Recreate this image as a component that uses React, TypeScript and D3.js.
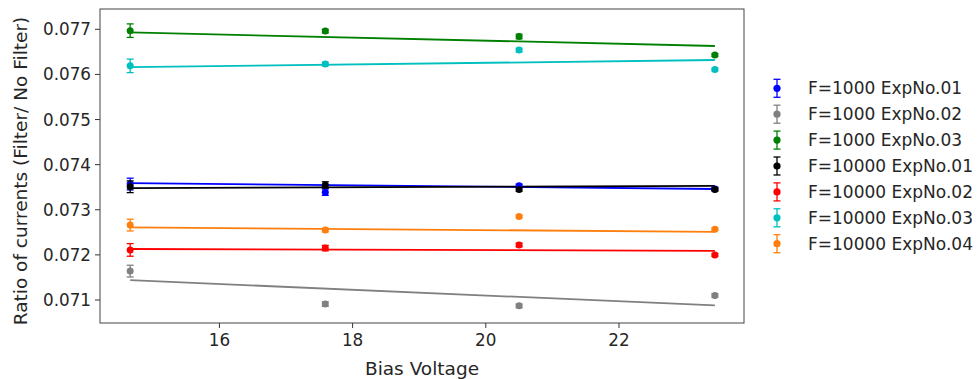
import * as d3 from "d3";

const WIDTH = 980;
const HEIGHT = 379;
const FONT = "DejaVu Sans, sans-serif";

const biasVoltages = [14.66, 17.59, 20.5, 23.44];

const seriesNames = [
    "F=1000 ExpNo.01",
    "F=1000 ExpNo.02",
    "F=1000 ExpNo.03",
    "F=10000 ExpNo.01",
    "F=10000 ExpNo.02",
    "F=10000 ExpNo.03",
    "F=10000 ExpNo.04",
];
const seriesColors = ["#0000ff", "#808080", "#008000", "#000000", "#ff0000", "#00bfbf", "#ff7f0e"];

// measured ratio per bias voltage
const f1000Exp01 = [0.07357, 0.07339, 0.07353, 0.07346];
const f1000Exp02 = [0.07164, 0.07091, 0.07087, 0.0711];
const f1000Exp03 = [0.07697, 0.07696, 0.07684, 0.07643];
const f10000Exp01 = [0.07351, 0.07355, 0.07345, 0.07345];
const f10000Exp02 = [0.07211, 0.07215, 0.07222, 0.072];
const f10000Exp03 = [0.07619, 0.07623, 0.07654, 0.07611];
const f10000Exp04 = [0.07266, 0.07255, 0.07285, 0.07257];

// error bar half-heights
const f1000Exp01Err = [0.00013, 0.00007, 0.00004, 0.00004];
const f1000Exp02Err = [0.00013, 0.00005, 0.00004, 0.00004];
const f1000Exp03Err = [0.00015, 0.00004, 0.00005, 0.00003];
const f10000Exp01Err = [0.00013, 0.00007, 0.00004, 0.00003];
const f10000Exp02Err = [0.00014, 0.00006, 0.00004, 0.00003];
const f10000Exp03Err = [0.00015, 0.00004, 0.00004, 0.00003];
const f10000Exp04Err = [0.00013, 0.00004, 0.00003, 0.00003];

// linear fit value at first and last bias voltage
const fitStart = [0.07359, 0.07144, 0.07693, 0.07348, 0.07213, 0.07616, 0.07261];
const fitEnd = [0.07346, 0.07088, 0.07663, 0.07353, 0.07209, 0.07632, 0.07251];

const seriesValues = [f1000Exp01, f1000Exp02, f1000Exp03, f10000Exp01, f10000Exp02, f10000Exp03, f10000Exp04];
const seriesErrors = [f1000Exp01Err, f1000Exp02Err, f1000Exp03Err, f10000Exp01Err, f10000Exp02Err, f10000Exp03Err, f10000Exp04Err];

const xTicks = [16, 18, 20, 22];
const yTicks = [0.071, 0.072, 0.073, 0.074, 0.075, 0.076, 0.077];

export default function App() {
    const margin = { top: 9, left: 100, right: 744, bottom: 323 };
    const x = d3.scaleLinear().domain([14.207, 23.877]).range([margin.left, margin.right]);
    const y = d3.scaleLinear().domain([0.07049, 0.07745]).range([margin.bottom, margin.top]);
    const fitLine = d3
        .line<[number, number]>()
        .x((d) => x(d[0]))
        .y((d) => y(d[1]));
    const firstX = biasVoltages[0];
    const lastX = biasVoltages[biasVoltages.length - 1];
    const capHalf = 3.5;

    return (
        <svg width={WIDTH} height={HEIGHT} style={{ position: "absolute", left: 0, top: 0, background: "#fff" }} fontFamily={FONT}>
            {/* ticks */}
            {xTicks.map((t) => (
                <g key={`x${t}`}>
                    <line x1={x(t)} x2={x(t)} y1={margin.bottom} y2={margin.bottom + 5} stroke="#333" strokeWidth={1} />
                    <text x={x(t)} y={346} fontSize={16.8} textAnchor="middle" fill="#262626">
                        {t}
                    </text>
                </g>
            ))}
            {yTicks.map((t) => (
                <g key={`y${t}`}>
                    <line x1={margin.left - 5} x2={margin.left} y1={y(t)} y2={y(t)} stroke="#333" strokeWidth={1} />
                    <text x={91} y={y(t) + 6} fontSize={16.8} textAnchor="end" fill="#262626">
                        {d3.format(".3f")(t)}
                    </text>
                </g>
            ))}

            {/* fit lines */}
            {seriesNames.map((name, i) => (
                <path
                    key={`fit${name}`}
                    d={fitLine([
                        [firstX, fitStart[i]],
                        [lastX, fitEnd[i]],
                    ]) ?? ""}
                    stroke={seriesColors[i]}
                    strokeWidth={1.8}
                    fill="none"
                />
            ))}

            {/* error bars + points */}
            {seriesNames.map((name, i) => (
                <g key={`pts${name}`} stroke={seriesColors[i]} fill={seriesColors[i]}>
                    {biasVoltages.map((bv, j) => {
                        const cx = x(bv);
                        const y0 = y(seriesValues[i][j] - seriesErrors[i][j]);
                        const y1 = y(seriesValues[i][j] + seriesErrors[i][j]);
                        return (
                            <g key={j}>
                                <line x1={cx} x2={cx} y1={y0} y2={y1} strokeWidth={1.3} />
                                <line x1={cx - capHalf} x2={cx + capHalf} y1={y0} y2={y0} strokeWidth={1.3} />
                                <line x1={cx - capHalf} x2={cx + capHalf} y1={y1} y2={y1} strokeWidth={1.3} />
                                <circle cx={cx} cy={y(seriesValues[i][j])} r={3.5} stroke="none" />
                            </g>
                        );
                    })}
                </g>
            ))}

            {/* frame */}
            <rect
                x={margin.left}
                y={margin.top}
                width={margin.right - margin.left}
                height={margin.bottom - margin.top}
                fill="none"
                stroke="#444"
                strokeWidth={1}
            />

            {/* axis labels */}
            <text x={(margin.left + margin.right) / 2} y={375} fontSize={18.5} textAnchor="middle" fill="#262626">
                Bias Voltage
            </text>
            <text
                transform={`translate(27,${(margin.top + margin.bottom) / 2 + 5}) rotate(-90)`}
                fontSize={18.5}
                textAnchor="middle"
                fill="#262626"
            >
                Ratio of currents (Filter/ No Filter)
            </text>

            {/* legend */}
            {seriesNames.map((name, i) => {
                const ly = 88.3 + i * 25.9;
                const lx = 777;
                return (
                    <g key={`leg${name}`}>
                        <g stroke={seriesColors[i]} strokeWidth={1.3}>
                            <line x1={lx} x2={lx} y1={ly - 9} y2={ly + 9} />
                            <line x1={lx - capHalf} x2={lx + capHalf} y1={ly - 9} y2={ly - 9} />
                            <line x1={lx - capHalf} x2={lx + capHalf} y1={ly + 9} y2={ly + 9} />
                        </g>
                        <circle cx={lx} cy={ly} r={3.6} fill={seriesColors[i]} />
                        <text x={808} y={ly + 6} fontSize={17} fill="#262626">
                            {name}
                        </text>
                    </g>
                );
            })}
        </svg>
    );
}
